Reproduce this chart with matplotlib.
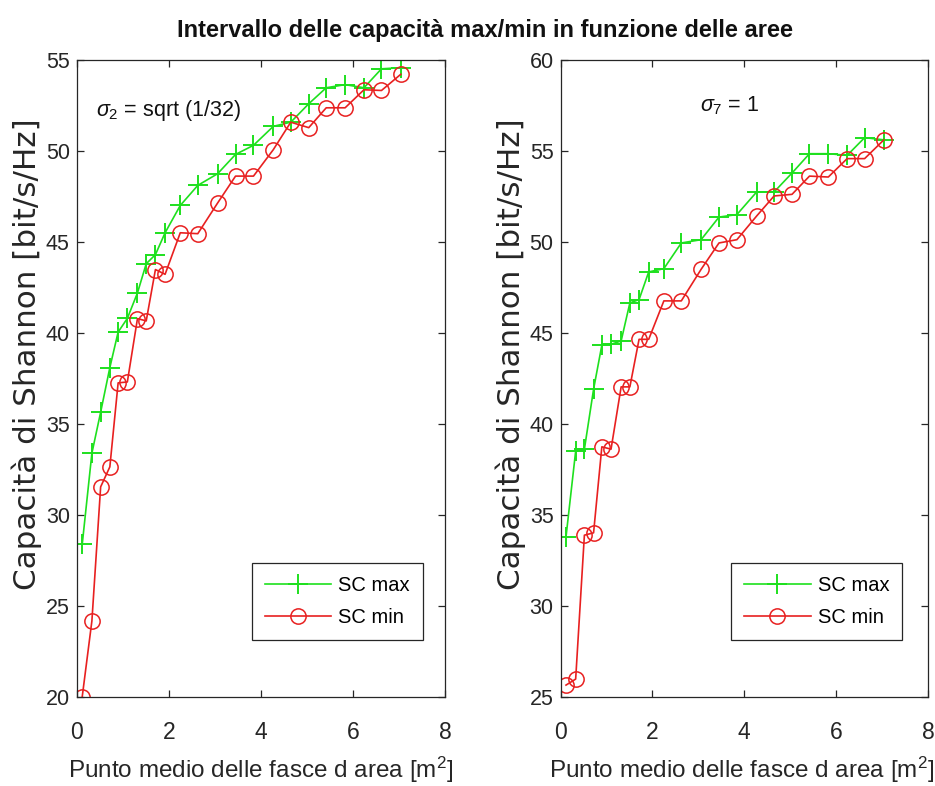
import matplotlib
matplotlib.use('Agg')
import matplotlib.pyplot as plt

# ---------------- data ----------------
x_mid = [0.12, 0.33, 0.52, 0.72, 0.90, 1.10, 1.32, 1.51, 1.71, 1.92, 2.25, 2.63,
         3.06, 3.45, 3.84, 4.27, 4.65, 5.04, 5.42, 5.83, 6.24, 6.62, 7.04]

left_max = [28.4, 33.4, 35.65, 38.1, 40.05, 40.8, 42.2, 43.8, 44.3, 45.5, 47.0, 48.1,
            48.74, 49.8, 50.3, 51.34, 51.57, 52.58, 53.46, 53.63, 53.46, 54.5, 54.56]
left_min = [20.03, 24.19, 31.55, 32.65, 37.26, 37.31, 40.79, 40.66, 43.48, 43.22, 45.5, 45.45,
            47.13, 48.61, 48.61, 50.06, 51.57, 51.27, 52.36, 52.36, 53.35, 53.31, 54.2]

right_max = [33.81, 38.51, 38.62, 41.91, 44.33, 44.38, 44.56, 46.65, 46.83, 48.35, 48.53, 49.94,
             50.12, 51.36, 51.5, 52.74, 52.74, 53.78, 54.84, 54.84, 54.75, 55.72, 55.6]
right_min = [25.67, 26.0, 33.9, 34.03, 38.75, 38.62, 42.04, 42.04, 44.65, 44.65, 46.76, 46.76,
             48.49, 49.94, 50.12, 51.42, 52.52, 52.61, 53.61, 53.56, 54.57, 54.57, 55.6]

x_ticks = [0, 2, 4, 6, 8]
left_yticks = [20, 25, 30, 35, 40, 45, 50, 55]
right_yticks = [25, 30, 35, 40, 45, 50, 55, 60]

series_labels = ['SC max', 'SC min']
title_text = 'Intervallo delle capacità max/min in funzione delle aree'
xlabel_text = r'Punto medio delle fasce d area [m$^{\mathrm{2}}$]'
ylabel_text = 'Capacità di Shannon [bit/s/Hz]'
left_note = r'$\sigma_{\mathrm{2}}$ = sqrt (1/32)'
right_note = r'$\sigma_{\mathrm{7}}$ = 1'

# ---------------- style ----------------
plt.rcParams['mathtext.fontset'] = 'custom'
plt.rcParams['mathtext.it'] = 'Liberation Sans:italic'
plt.rcParams['mathtext.rm'] = 'Liberation Sans'
plt.rcParams['font.family'] = ['Liberation Sans', 'DejaVu Sans']

SANS = ['Liberation Sans', 'DejaVu Sans']
GREEN = '#1ee01e'
RED = '#e82020'
DARK = '#262626'

fig = plt.figure(figsize=(9.35, 7.86), dpi=100)
fig.patch.set_facecolor('white')

W, H = 935.0, 786.0
panels = [
    dict(left=76.7, right=445.0, ymax=left_max, ymin=left_min, ylim=(20, 55),
         yticks=left_yticks, note=left_note, note_xy=(0.43, 52.23), leg_x=0.475,
         xlab_x=0.5),
    dict(left=560.5, right=928.0, ymax=right_max, ymin=right_min, ylim=(25, 60),
         yticks=right_yticks, note=right_note, note_xy=(3.03, 57.49), leg_x=0.464,
         xlab_x=0.494),
]
top_px, bot_px = 59.7, 697.3

for p in panels:
    ax = fig.add_axes([p['left'] / W, 1 - bot_px / H,
                       (p['right'] - p['left']) / W, (bot_px - top_px) / H])
    ax.plot(x_mid, p['ymax'], color=GREEN, lw=1.2, marker='+', ms=14, mew=1.4,
            label=series_labels[0])
    ax.plot(x_mid, p['ymin'], color=RED, lw=1.2, marker='o', ms=11, mfc='none',
            mew=1.1, label=series_labels[1])
    ax.set_xlim(0, 8)
    ax.set_ylim(*p['ylim'])
    ax.set_xticks(x_ticks)
    ax.set_yticks(p['yticks'])
    ax.tick_params(direction='in', length=5, width=0.9, top=True, right=True,
                   colors=DARK)
    ax.tick_params(axis='x', pad=17)
    ax.tick_params(axis='y', pad=5)
    for lab in ax.get_xticklabels():
        lab.set_family(SANS)
        lab.set_fontsize(16.5)
        lab.set_color(DARK)
    for lab in ax.get_yticklabels():
        lab.set_family(SANS)
        lab.set_fontsize(15.5)
        lab.set_color(DARK)
    for s in ax.spines.values():
        s.set_color(DARK)
        s.set_linewidth(0.9)

    ax.set_xlabel(xlabel_text, family=SANS, fontsize=17.5, color=DARK, va='bottom')
    ax.xaxis.set_label_coords(p['xlab_x'], -0.1375)
    ax.set_ylabel(ylabel_text, family=['DejaVu Sans'], fontsize=22.3, color=DARK,
                  va='center')
    ax.yaxis.set_label_coords(-0.135, 0.538)

    ax.text(p['note_xy'][0], p['note_xy'][1], p['note'], fontsize=15.5,
            va='center', ha='left', color='#111111')

    leg = ax.legend(loc='upper left', bbox_to_anchor=(p['leg_x'], 0.210),
                    borderaxespad=0, fancybox=False, framealpha=1,
                    edgecolor=DARK, fontsize=14.5, handlelength=3.3,
                    handletextpad=0.35, borderpad=0.65, labelspacing=0.6)
    leg.get_frame().set_linewidth(0.9)

fig.text(485 / W, 1 - 30 / H, title_text, ha='center', va='center',
         fontsize=17, fontweight='bold', family=SANS, color='#111111')

fig.savefig('out.png', dpi=100, facecolor='white')
